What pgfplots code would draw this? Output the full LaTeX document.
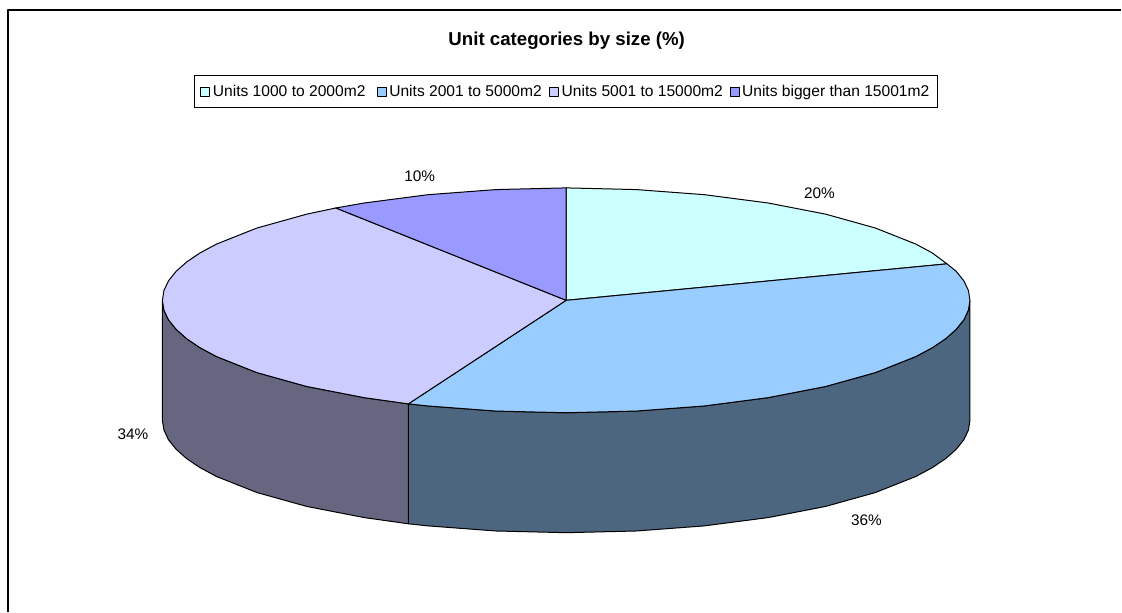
\documentclass[border=0pt]{standalone}
\usepackage{fontspec}
\setmainfont{Liberation Sans}
\usepackage{pgfplots}
\pgfplotsset{compat=1.18}

\definecolor{sliceA}{HTML}{CCFFFF}
\definecolor{sliceB}{HTML}{99CCFF}
\definecolor{sliceC}{HTML}{CCCCFF}
\definecolor{sliceD}{HTML}{9999FF}
\definecolor{wallB}{HTML}{4C6680}
\definecolor{wallC}{HTML}{666680}

\begin{document}
\begin{tikzpicture}
\begin{axis}[
    scale only axis,
    width=841.5pt, height=459pt,
    xmin=0, xmax=1122, ymin=0, ymax=612,
    y dir=reverse,
    hide axis,
    clip=false,
    legend columns=4,
    legend style={
        at={(axis cs:194,75)}, anchor=north west,
        draw=black, line width=0.75pt,
        font=\fontsize{11.7}{13}\selectfont,
        inner xsep=4.5pt, inner ysep=5.2pt,
        /tikz/column 2/.style={column sep=6.5pt},
        /tikz/column 4/.style={column sep=3.5pt},
        /tikz/column 6/.style={column sep=3pt},
    },
    legend image code/.code={
        \draw[#1, draw=black, line width=0.6pt] (0pt,-3.2pt) rectangle (6.8pt,3.2pt);
    },
    every axis plot/.append style={draw=black, line width=0.75pt, line join=round},
]
% page background
\addplot[draw=none, fill=white, forget plot] coordinates {(0,0) (1122,0) (1122,612) (0,612) (0,0)};
% chart frame (cropped on the right and at the bottom)
\addplot[black, line width=1pt, forget plot] coordinates {(8,612) (8,10) (1122,10)};

% side walls
\addplot[fill=wallB, forget plot] coordinates {
    (970.5,300.5) (969,310.3) (964.4,320) (956.7,329.6) (946.1,339) (932.7,348) (916.4,356.75)
    (876,372.8) (826.2,386.7) (768.5,397.9) (704.7,406.2) (636.7,411.3) (566.5,413)
    (496.3,411.3) (428.3,406.2) (408.6,404.1)
    (408.6,524.1) (428.3,526.2) (496.3,531.3) (566.5,533) (636.7,531.3) (704.7,526.2)
    (768.5,517.9) (826.2,506.7) (876,492.8) (916.4,476.75) (932.7,468) (946.1,459)
    (956.7,449.6) (964.4,440) (969,430.3) (970.5,420.5) (970.5,300.5)
};
\addplot[fill=wallC, forget plot] coordinates {
    (408.6,404.1) (364.5,397.9) (306.8,386.7) (257,372.8) (216.6,356.75) (200.3,348)
    (186.9,339) (176.3,329.6) (168.6,320) (164,310.3) (162.5,300.5)
    (162.5,420.5) (164,430.3) (168.6,440) (176.3,449.6) (186.9,459) (200.3,468)
    (216.6,476.75) (257,492.8) (306.8,506.7) (364.5,517.9) (408.6,524.1) (408.6,404.1)
};

% top slices
\addplot[fill=sliceA] coordinates {
    (566.5,300.5) (566.5,188) (636.7,189.7) (704.7,194.8) (768.5,203.1) (826.2,214.3)
    (876,228.2) (916.4,244.25) (932.7,253) (947.5,264) (566.5,300.5)
};
\addlegendentry{Units 1000 to 2000m2}
\addplot[fill=sliceB] coordinates {
    (566.5,300.5) (947.5,264) (956.7,271.4) (964.4,281) (969,290.7) (970.5,300.5)
    (969,310.3) (964.4,320) (956.7,329.6) (946.1,339) (932.7,348) (916.4,356.75)
    (876,372.8) (826.2,386.7) (768.5,397.9) (704.7,406.2) (636.7,411.3) (566.5,413)
    (496.3,411.3) (428.3,406.2) (408.6,404.1) (566.5,300.5)
};
\addlegendentry{Units 2001 to 5000m2}
\addplot[fill=sliceC] coordinates {
    (566.5,300.5) (408.6,404.1) (364.5,397.9) (306.8,386.7) (257,372.8) (216.6,356.75)
    (200.3,348) (186.9,339) (176.3,329.6) (168.6,320) (164,310.3) (162.5,300.5)
    (164,290.7) (168.6,281) (176.3,271.4) (186.9,262) (200.3,253) (216.6,244.25)
    (257,228.2) (306.8,214.3) (336,208.1) (566.5,300.5)
};
\addlegendentry{Units 5001 to 15000m2}
\addplot[fill=sliceD] coordinates {
    (566.5,300.5) (336,208.1) (364.5,203.1) (428.3,194.8) (496.3,189.7) (566.5,188) (566.5,300.5)
};
\addlegendentry{Units bigger than 15001m2}

\node[font=\fontsize{14}{16}\selectfont\bfseries] at (axis cs:567,41) {Unit categories by size (\%)};
\node[font=\fontsize{11.5}{13}\selectfont] at (axis cs:420,176) {10\%};
\node[font=\fontsize{11.5}{13}\selectfont] at (axis cs:820,193) {20\%};
\node[font=\fontsize{11.5}{13}\selectfont] at (axis cs:133,434) {34\%};
\node[font=\fontsize{11.5}{13}\selectfont] at (axis cs:867,521) {36\%};
\end{axis}
\end{tikzpicture}
\end{document}
